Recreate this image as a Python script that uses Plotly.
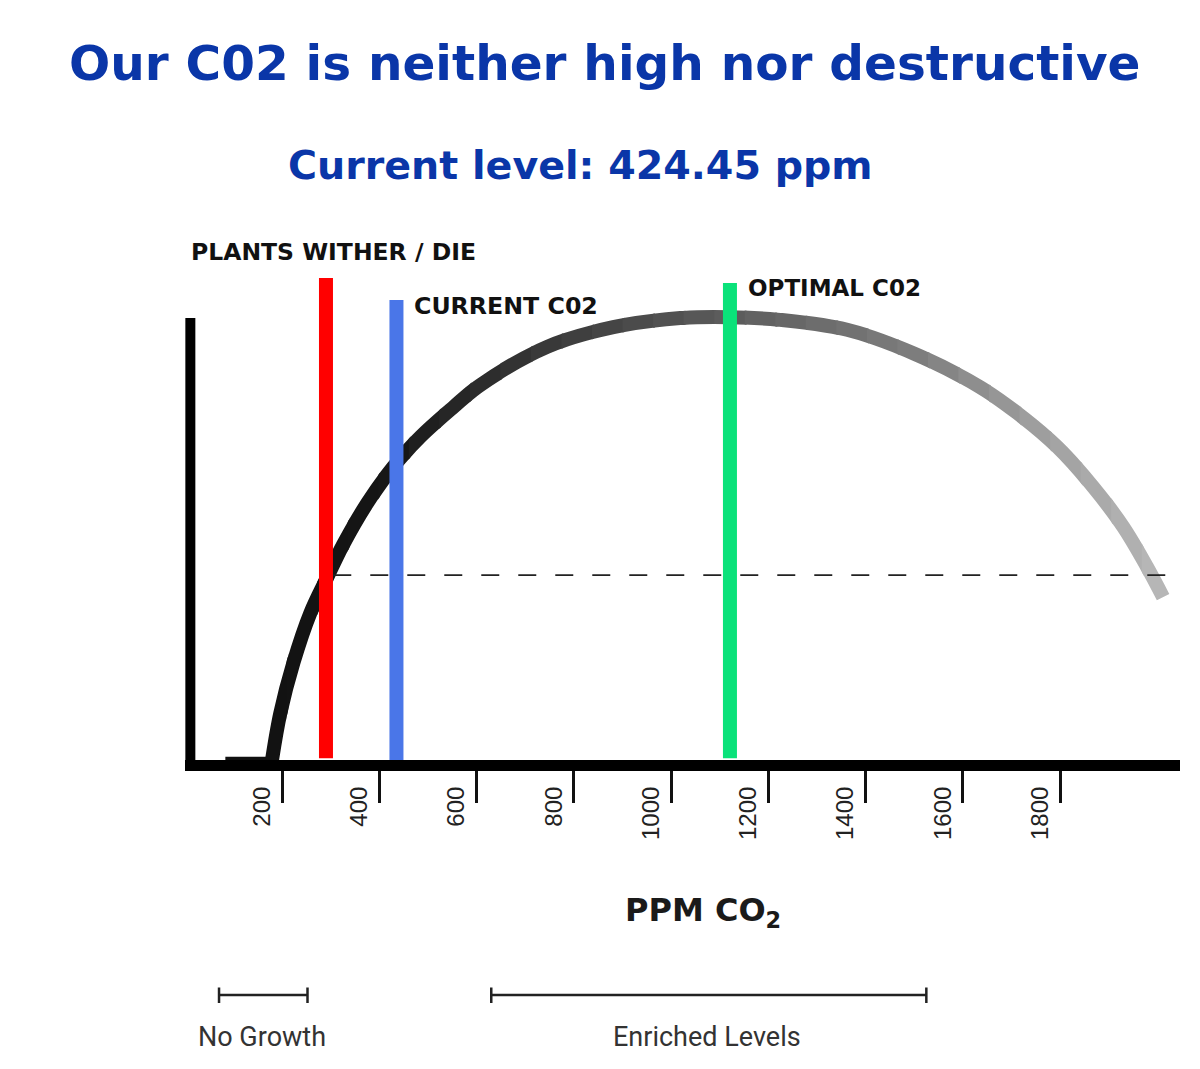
import numpy as np
import plotly.graph_objects as go

# ---------------- data ----------------
curve_ppm = [179, 196, 223, 258, 293, 325, 375, 428, 484, 552, 607, 745, 881,
             1019, 1121, 1224, 1362, 1498, 1635, 1712, 1794, 1868, 1930, 1979, 2012]
curve_growth = [0, 10.4, 21.6, 32.7, 40.7, 47.8, 57.1, 65.1, 71.8, 78.4, 83.3,
                91.8, 96.2, 98.2, 98.4, 97.8, 95.6, 90.4, 82.9, 77.1, 69.6,
                60.7, 51.8, 42.9, 36.2]

no_growth_floor_ppm = [83, 186]
no_growth_floor_val = [0.3, 0.3]

reference_level_ppm = [305, 2022]
reference_level_val = [41.1, 41.1]

marker_names = ["PLANTS WITHER / DIE", "CURRENT C02", "OPTIMAL C02"]
marker_ppm = [290, 435, 1121]
marker_top = [107.1, 102.2, 106.0]
marker_bottom = [0.4, 0.0, 0.4]
marker_colors = ["#ff0000", "#4a76e8", "#0ae27a"]

tick_vals = [200, 400, 600, 800, 1000, 1200, 1400, 1600, 1800]
tick_text = ["200", "400", "600", "800", "1000", "1200", "1400", "1600", "1800"]

axis_top_val = 98.2
no_growth_range = [70, 252]
enriched_range = [630, 1525]

# grey level of the curve along ppm (fades from black to light grey)
grad_ppm = [150, 420, 620, 900, 1120, 1500, 1750, 2030]
grad_gray = [17, 22, 45, 72, 92, 125, 158, 185]

X_MAX = 2046.8
Y_MAX = 111.11

# ---------------- figure ----------------
fig = go.Figure()
layout_axes = {}

# thin flat part at the bottom left
fig.add_trace(go.Scatter(
    x=no_growth_floor_ppm, y=no_growth_floor_val, mode="lines",
    line=dict(color="#111111", width=4), hoverinfo="skip", showlegend=False))

# the curve: the full spline is drawn in several colour bands, each band is a
# hidden x-axis whose domain/range matches the main axis, so clipping gives a fade
edges = np.linspace(150, 2035, 31)
overlap = 4.0
for k in range(len(edges) - 1):
    e0, e1 = edges[k] - overlap, edges[k + 1]
    mid = (edges[k] + edges[k + 1]) / 2
    g = int(round(np.interp(mid, grad_ppm, grad_gray)))
    ax_id = k + 2
    layout_axes[f"xaxis{ax_id}"] = dict(
        domain=[e0 / X_MAX, min(1.0, e1 / X_MAX)], range=[e0, e1],
        visible=False, anchor="y", showgrid=False, zeroline=False)
    fig.add_trace(go.Scatter(
        x=curve_ppm, y=curve_growth, mode="lines", xaxis=f"x{ax_id}", yaxis="y",
        line=dict(color=f"rgb({g},{g},{g})", width=14, shape="spline"),
        hoverinfo="skip", showlegend=False))

# dashed reference level (above the curve)
fig.add_shape(type="line", xref="x", yref="y", layer="above",
              x0=reference_level_ppm[0], x1=reference_level_ppm[1],
              y0=reference_level_val[0], y1=reference_level_val[1],
              line=dict(color="#222222", width=1.8, dash="18px,19px"))

# vertical marker lines (above the curve)
for xv, yt, yb, col in zip(marker_ppm, marker_top, marker_bottom, marker_colors):
    fig.add_shape(type="line", xref="x", yref="y", layer="above",
                  x0=xv, x1=xv, y0=yb, y1=yt, line=dict(color=col, width=14))

# y axis line
fig.add_shape(type="line", xref="x", yref="y", x0=11, x1=11, y0=-3, y1=axis_top_val,
              line=dict(color="black", width=10), layer="above")

# brackets below the chart
for rng in (no_growth_range, enriched_range):
    fig.add_shape(type="line", xref="x", yref="paper", x0=rng[0], x1=rng[1],
                  y0=-0.47, y1=-0.47, line=dict(color="#222222", width=2.5))
    for xv in rng:
        fig.add_shape(type="line", xref="x", yref="paper", x0=xv, x1=xv,
                      y0=-0.455, y1=-0.486, line=dict(color="#222222", width=2.5))

title_blue = "#0a36a8"
annotations = [
    dict(text="Our C02 is neither high nor destructive", x=0.4221, y=1.394,
         xanchor="center", yanchor="middle",
         font=dict(family="DejaVu Sans", size=48.5, color=title_blue, weight="bold")),
    dict(text="Current level: 424.45 ppm", x=0.397, y=1.19,
         xanchor="center", yanchor="middle",
         font=dict(family="DejaVu Sans", size=39.6, color=title_blue, weight="bold")),
    dict(text="PLANTS WITHER / DIE", x=(189 - 185) / 995, y=1.016, xanchor="left", yanchor="middle",
         font=dict(family="DejaVu Sans", size=23.5, color="#111111", weight="bold")),
    dict(text="CURRENT C02", x=(412 - 185) / 995, y=0.908, xanchor="left", yanchor="middle",
         font=dict(family="DejaVu Sans", size=23.7, color="#111111", weight="bold")),
    dict(text="OPTIMAL C02", x=(746 - 185) / 995, y=0.944, xanchor="left", yanchor="middle",
         font=dict(family="DejaVu Sans", size=23, color="#111111", weight="bold")),
    dict(text="PPM CO<sub>2</sub>", x=0.5206, y=-0.304, xanchor="center", yanchor="middle",
         font=dict(family="DejaVu Sans", size=32, color="#1a1a1a", weight="bold")),
    dict(text="No Growth", x=0.0774, y=-0.554, xanchor="center", yanchor="middle",
         font=dict(family="Roboto", size=27, color="#333333")),
    dict(text="Enriched Levels", x=0.5246, y=-0.554, xanchor="center", yanchor="middle",
         font=dict(family="Roboto", size=27, color="#333333")),
]
for a in annotations:
    a.update(xref="paper", yref="paper", showarrow=False)

fig.update_layout(
    width=1200, height=1069,
    margin=dict(l=185, r=20, t=260, b=309),
    paper_bgcolor="white", plot_bgcolor="rgba(0,0,0,0)",
    annotations=annotations,
    showlegend=False,
    hovermode=False,
    **layout_axes,
)
fig.update_layout(xaxis=dict(
    range=[0, X_MAX], showgrid=False, zeroline=False,
    showline=True, linewidth=11, linecolor="black",
    ticks="outside", ticklen=32, tickwidth=2.5, tickcolor="#111111",
    tickvals=tick_vals, ticktext=tick_text, tickangle=-90,
    ticklabelshift=-20, ticklabelstandoff=-26,
    tickfont=dict(family="Liberation Sans", size=24, color="#222222"),
))
fig.update_layout(yaxis=dict(range=[0, Y_MAX], showgrid=False, zeroline=False,
                             showline=False, showticklabels=False, ticks=""))

fig.write_html("out.html", config={"displayModeBar": False},
               post_script="document.body.style.margin='0';")
